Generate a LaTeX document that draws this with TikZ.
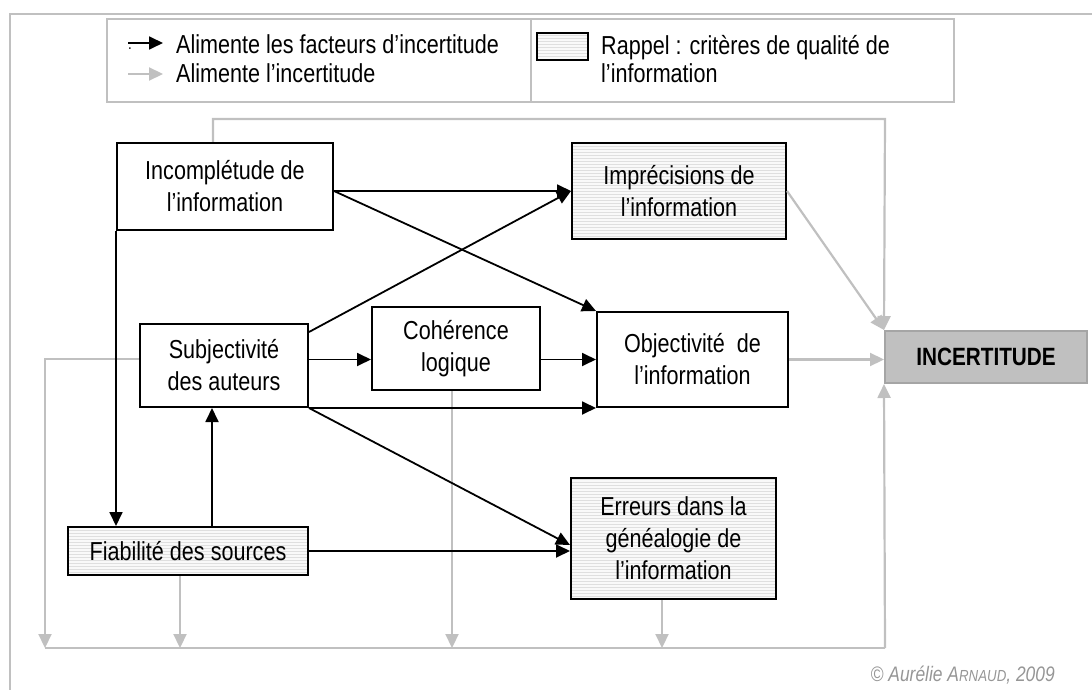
\documentclass[tikz,border=0pt]{standalone}
\usepackage{fontspec}
\setmainfont[FakeStretch=0.83]{Liberation Sans}
\usetikzlibrary{arrows.meta,patterns}
\definecolor{linegray}{RGB}{192,192,192}
\definecolor{edgegray}{RGB}{165,165,165}
\definecolor{copygray}{RGB}{150,150,150}
\tikzset{
  factor/.style={draw, line width=2pt, align=center, inner sep=0pt, font=\fontsize{26}{32}\selectfont},
  quality/.style={factor, preaction={fill=gray!5}, pattern=horizontal lines, pattern color=gray!25},
  keybox/.style={draw=linegray, line width=2pt, inner sep=0pt},
  keytext/.style={anchor=base west, inner sep=0pt, font=\fontsize{26}{29}\selectfont},
  feeds/.style={line width=1.8pt, -{Triangle[length=14pt,width=13pt]}},
  feedsgray/.style={linegray, line width=2.2pt, -{Triangle[length=14pt,width=13pt]}},
}
\begin{document}
\begin{tikzpicture}[x=1pt,y=-1pt]
\useasboundingbox (0,0) rectangle (1092,690);
% Frame
\draw[linegray, line width=2pt] (10,690) -- (10,14) -- (1092,14);
% Legend
\node[keybox, minimum width=424pt, minimum height=83pt] (keyleft) at (319,60.5) {};
\node[keybox, minimum width=423pt, minimum height=83pt] (keyright) at (742.5,60.5) {};
\coordinate (kb1) at (128,43);
\coordinate (kb2) at (163,43);
\coordinate (kg1) at (128,74);
\coordinate (kg2) at (163,74);
\draw[feeds] (kb1) -- (kb2);
\draw[feedsgray] (kg1) -- (kg2);
\node[inner sep=0pt, font=\fontsize{16}{16}\selectfont] (dot) at (130,49) {.};
\node[keytext] (keyfactors) at (176,54) {Alimente les facteurs d’incertitude};
\node[keytext] (keyuncert) at (176,83) {Alimente l’incertitude};
\node[quality, line width=1.5pt, minimum width=51pt, minimum height=27pt] (swatch) at (562.5,46.5) {};
\node[keytext] (keyquality) at (601,55) {Rappel : critères de qualité de};
\node[keytext] (keyquality2) at (601,83) {l’information};
% Factors
\node[factor, minimum width=216pt, minimum height=87pt] (incomp) at (225,186.5) {Incomplétude de\\l’information};
\node[quality, minimum width=214pt, minimum height=96pt] (impr) at (679,191) {Imprécisions de\\l’information};
\node[factor, minimum width=168pt, minimum height=83pt] (subj) at (224,365.5) {Subjectivité\\des auteurs};
\node[factor, minimum width=168pt, minimum height=83pt] (coher) at (456,348.5) {Cohérence\\logique};
\node[factor, minimum width=191pt, minimum height=95pt] (obj) at (692.5,359.5) {Objectivité~ de\\l’information};
\node[quality, minimum width=240pt, minimum height=48pt] (fiab) at (188,551) {Fiabilité des sources};
\node[quality, minimum width=205pt, minimum height=121pt] (err) at (673.5,538.5) {Erreurs dans la\\généalogie de\\l’information};
\node[draw=edgegray, fill=linegray, line width=2pt, inner sep=0pt, minimum width=202pt, minimum height=52pt,
  font=\fontsize{25}{28}\selectfont\bfseries] (incert) at (986,357) {INCERTITUDE};
% Feeding the uncertainty
\coordinate (loopNE) at (885,119);
\coordinate (loopSW) at (45,648);
\coordinate (loopSE) at (885,648);
\draw[feedsgray] ([xshift=-12pt]incomp.north) |- (loopNE) -- (incert.north west);
\draw[feedsgray] (impr.east) -- (incert.north west);
\draw[feedsgray] (obj.east) -- (obj.east -| incert.west);
\draw[linegray, line width=2.2pt] (loopSW) -- (loopSE);
\draw[feedsgray] (loopSE) -- (incert.south west);
\draw[feedsgray] ([yshift=6.5pt]subj.west) -| (loopSW);
\draw[feedsgray] ([xshift=-8pt]fiab.south) -- ([xshift=-8pt]fiab.south |- loopSW);
\draw[feedsgray] ([xshift=-4pt]coher.south) -- ([xshift=-4pt]coher.south |- loopSW);
\draw[feedsgray] ([xshift=-11.5pt]err.south) -- ([xshift=-11.5pt]err.south |- loopSW);
% Feeding the factors
\draw[feeds] (incomp.east |- impr.west) -- (impr.west);
\draw[feeds] (incomp.east |- impr.west) -- (obj.north west);
\draw[feeds] ([yshift=-9pt]subj.north east) -- (impr.west);
\draw[feeds] (subj.east |- obj.west) -- (coher.west |- obj.west);
\draw[feeds] (coher.east |- obj.west) -- (obj.west);
\draw[feeds] (subj.south east) -- (obj.south west);
\draw[feeds] (subj.south east) -- ([yshift=-6.5pt]err.west);
\draw[feeds] (fiab.east) -- (fiab.east -| err.west);
\draw[feeds] (incomp.south west) -- (incomp.south west |- fiab.north);
\draw[feeds] ([xshift=-12pt]subj.south |- fiab.north) -- ([xshift=-12pt]subj.south);
% Credit
\node[anchor=base east, inner sep=0pt, font=\fontsize{21}{24}\selectfont\itshape, text=copygray] (credit) at (1055,681)
  {© Aurélie A{\fontsize{16}{18}\selectfont RNAUD}, 2009};
\end{tikzpicture}
\end{document}
